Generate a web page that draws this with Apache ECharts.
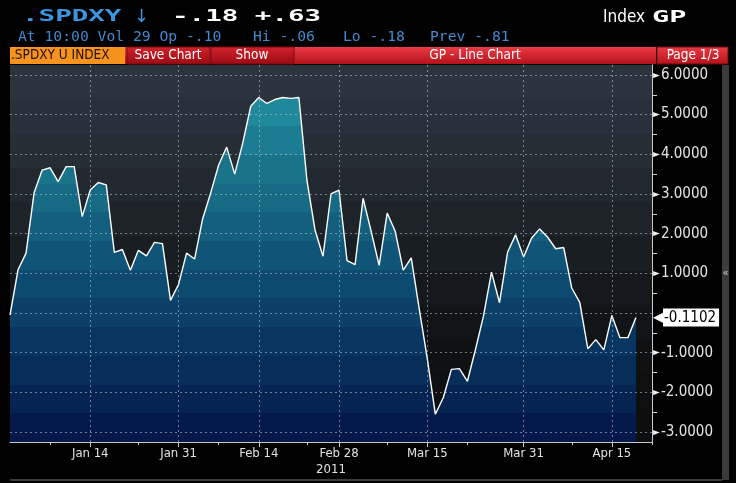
<!DOCTYPE html>
<html>
<head>
<meta charset="utf-8">
<script src="https://cdn.jsdelivr.net/npm/echarts@6/dist/echarts.min.js"></script>
<style>
html,body{margin:0;padding:0;background:#000;}
#chart{width:736px;height:483px;}
</style>
</head>
<body>
<div id="chart"></div>
<script>
// ---- data ----
const categories = [
  'Dec 31',
  'Jan 3','Jan 4','Jan 5','Jan 6','Jan 7','Jan 10','Jan 11','Jan 12','Jan 13','Jan 14',
  'Jan 17','Jan 18','Jan 19','Jan 20','Jan 21','Jan 24','Jan 25','Jan 26','Jan 27','Jan 28','Jan 31',
  'Feb 1','Feb 2','Feb 3','Feb 4','Feb 7','Feb 8','Feb 9','Feb 10','Feb 11','Feb 14',
  'Feb 15','Feb 16','Feb 17','Feb 18','Feb 21','Feb 22','Feb 23','Feb 24','Feb 25','Feb 28',
  'Mar 1','Mar 2','Mar 3','Mar 4','Mar 7','Mar 8','Mar 9','Mar 10','Mar 11','Mar 14','Mar 15',
  'Mar 16','Mar 17','Mar 18','Mar 21','Mar 22','Mar 23','Mar 24','Mar 25','Mar 28','Mar 29','Mar 30','Mar 31',
  'Apr 1','Apr 4','Apr 5','Apr 6','Apr 7','Apr 8','Apr 11','Apr 12','Apr 13','Apr 14','Apr 15',
  'Apr 18','Apr 19','Apr 20','Apr 21','Apr 22'
];
const values = [
  -0.05, 1.09, 1.51, 3.03, 3.60, 3.66, 3.31, 3.69, 3.69, 2.43,
   3.10, 3.29, 3.23, 1.53, 1.60, 1.08, 1.58, 1.44, 1.78, 1.75,
   0.32, 0.72, 1.51, 1.36, 2.37, 3.02, 3.73, 4.18, 3.50, 4.28,
   5.21, 5.43, 5.28, 5.38, 5.43, 5.41, 5.43, 3.35, 2.10, 1.43,
   3.00, 3.10, 1.32, 1.22, 2.89, 2.06, 1.20, 2.52, 2.06, 1.08,
   1.39, 0.10, -1.15, -2.55, -2.13, -1.42, -1.40, -1.72, -0.92, -0.08,
   1.03, 0.26, 1.53, 1.97, 1.41, 1.89, 2.12, 1.91, 1.62, 1.65,
   0.63, 0.27, -0.90, -0.67, -0.93, -0.06, -0.62, -0.62, -0.1102
];
const lastValue = -0.1102;
const tickLabels = ['Jan 14','Jan 31','Feb 14','Feb 28','Mar 15','Mar 31','Apr 15'];
const minorTickDates = ['Jan 7','Jan 24','Feb 7','Feb 22','Mar 8','Mar 22','Apr 8','Apr 22'];
const yearLabel = '2011';
const yearLabelAt = 'Feb 25';
const yLabelValues = [-3, -2, -1, 1, 2, 3, 4, 5, 6];
const yGridValues = [-3, -2, -1, 0, 1, 2, 3, 4, 5, 6];
const yMinorTicks = [-2.5, -1.5, -0.5, 0.5, 1.5, 2.5, 3.5, 4.5, 5.5];
const yMin = -3.25, yMax = 6.25;

const headTicker = '.SPDXY';
const headArrow = '↓';
const headQuote = '-.18 +.63';
const infoParts = ['At 10:00 Vol 29 Op -.10', 'Hi -.06', 'Lo -.18', 'Prev -.81'];
const headRight1 = 'Index';
const headRight2 = 'GP';
const toolbarTexts = ['.SPDXY U INDEX', 'Save Chart', 'Show', 'GP - Line Chart', 'Page 1/3'];

// ---- styles ----
const COND = "'DejaVu Sans Condensed','Liberation Sans Narrow','DejaVu Sans',sans-serif";
function bands(list) {
  const stops = [];
  const n = list.length;
  list.forEach((c, i) => {
    stops.push({offset: i / n, color: c});
    stops.push({offset: (i + 1) / n, color: c});
  });
  return {type: 'linear', x: 0, y: 0, x2: 0, y2: 1, colorStops: stops};
}
const bgGrad = bands(['#2b343d','#28313a','#252d35','#212830','#1d2329','#191e23','#15191d','#121518','#0f1113','#0d0f10','#0c0e0f']);
const areaGrad = bands(['#1f889b','#1c7d92','#197389','#166a84','#135f7d','#105577','#0d4a6f','#0b4068','#093661','#072d59','#062451','#051a4a']);
const gridLine = {color: 'rgba(195,205,215,0.55)', type: [2, 3], width: 1};
const redGrad = {type:'linear',x:0,y:0,x2:0,y2:1,colorStops:[{offset:0,color:'#ec3b45'},{offset:1,color:'#b3121b'}]};
const btnGrad = {type:'linear',x:0,y:0,x2:0,y2:1,colorStops:[{offset:0,color:'#d4222c'},{offset:1,color:'#980b13'}]};

const chart = echarts.init(document.getElementById('chart'), null, {renderer: 'canvas'});

const markData = []
  .concat(yGridValues.map(v => ({yAxis: v, lineStyle: gridLine, label: {show: false}})))
  .concat(tickLabels.map(d => ({xAxis: categories.indexOf(d), lineStyle: gridLine, label: {show: false}})))
  .concat([{
    yAxis: lastValue,
    lineStyle: {color: 'rgba(0,0,0,0)', width: 0, opacity: 1},
    label: {
      show: true, position: 'end', distance: 1, opacity: 1,
      formatter: () => '{a|◀}{b|' + lastValue.toFixed(4) + '}',
      rich: {
        a: {color: '#ffffff', fontSize: 16, padding: [0, -2, 0, 0], opacity: 1},
        b: {backgroundColor: '#ffffff', color: '#000000', fontSize: 15, fontFamily: COND, padding: [2, 3, 1, 1], opacity: 1}
      }
    }
  }]);

const text = (x, y, str, fill, font, extra) => Object.assign({
  type: 'text', x: x, y: y, silent: true,
  style: {text: str, fill: fill, font: font, verticalAlign: 'middle'}
}, extra || {});
const ctext = (x, y, str, fill, font) => ({
  type: 'text', x: x, y: y, silent: true,
  style: {text: str, fill: fill, font: font, verticalAlign: 'middle', align: 'center'}
});

const option = {
  backgroundColor: '#000000',
  animation: false,
  grid: {left: 10, right: 84, top: 65, bottom: 41, show: true, backgroundColor: bgGrad, borderWidth: 0},
  xAxis: [{
    type: 'category', data: categories, boundaryGap: false, position: 'bottom',
    axisLine: {onZero: false, lineStyle: {color: '#c8c8c8', width: 1}},
    axisTick: {interval: (i, v) => tickLabels.indexOf(v) >= 0, length: 5, lineStyle: {color: '#d0d0d0'}},
    axisLabel: {interval: (i, v) => tickLabels.indexOf(v) >= 0, color: '#e2e2e2', fontSize: 13, fontFamily: COND, margin: 5},
    splitLine: {show: false}
  }, {
    type: 'category', data: categories, boundaryGap: false, position: 'bottom',
    axisLine: {show: false, onZero: false},
    axisTick: {interval: (i, v) => minorTickDates.indexOf(v) >= 0, length: 3, lineStyle: {color: '#d0d0d0'}},
    axisLabel: {interval: (i, v) => v === yearLabelAt, formatter: () => yearLabel, color: '#e2e2e2', fontSize: 13, fontFamily: COND, margin: 21},
    splitLine: {show: false}
  }],
  yAxis: {
    type: 'value', position: 'right', min: yMin, max: yMax, scale: false,
    axisLine: {show: true, onZero: false, lineStyle: {color: '#c8c8c8', width: 1}},
    axisTick: {show: true, customValues: yMinorTicks, length: 5, lineStyle: {color: '#d0d0d0'}},
    axisLabel: {
      customValues: yLabelValues, margin: 1, color: '#e4e4e4', fontSize: 15, fontFamily: COND,
      formatter: v => '{t|►}' + v.toFixed(4),
      rich: {t: {fontSize: 10, color: '#f0f0f0', padding: [0, 1, 0, 0]}}
    },
    splitLine: {show: false}
  },
  series: [{
    type: 'line', data: values, xAxisIndex: 0, symbol: 'none', smooth: false,
    lineStyle: {color: '#ffffff', width: 1.4},
    areaStyle: {origin: 'start', color: areaGrad, opacity: 1},
    markLine: {silent: true, symbol: ['none', 'none'], animation: false, data: markData}
  }],
  graphic: [
    text(22, 17, headTicker, '#3a96e0', 'bold 16px "DejaVu Sans Mono"', {scaleX: 1.72}),
    text(134, 17, headArrow, '#3a96e0', '18px "DejaVu Sans"'),
    text(172, 17, headQuote, '#ffffff', 'bold 16px "DejaVu Sans Mono"', {scaleX: 1.72}),
    text(18, 37, infoParts[0], '#4189d0', '14.7px "DejaVu Sans Mono"'),
    text(253, 37, infoParts[1], '#4189d0', '14.7px "DejaVu Sans Mono"'),
    text(343, 37, infoParts[2], '#4189d0', '14.7px "DejaVu Sans Mono"'),
    text(430, 37, infoParts[3], '#4189d0', '14.7px "DejaVu Sans Mono"'),
    text(603, 18, headRight1, '#ffffff', '17px ' + COND),
    text(652, 18, headRight2, '#ffffff', 'bold 15px "DejaVu Sans Mono"', {scaleX: 1.9}),
    // toolbar
    {type: 'rect', shape: {x: 10, y: 47, width: 115, height: 17}, style: {fill: '#f6921e'}, silent: true},
    {type: 'rect', shape: {x: 125, y: 47, width: 531, height: 17}, style: {fill: redGrad}, silent: true},
    {type: 'rect', shape: {x: 127, y: 47, width: 83, height: 17}, style: {fill: btnGrad, stroke: '#7a0a10', lineWidth: 1}, silent: true},
    {type: 'rect', shape: {x: 211, y: 47, width: 83, height: 17}, style: {fill: btnGrad, stroke: '#7a0a10', lineWidth: 1}, silent: true},
    {type: 'rect', shape: {x: 657, y: 47, width: 71, height: 17}, style: {fill: redGrad, stroke: '#6a0a10', lineWidth: 1}, silent: true},
    text(11, 55.5, toolbarTexts[0], '#201000', '13.5px ' + COND),
    ctext(168, 55.5, toolbarTexts[1], '#ffffff', '13.5px ' + COND),
    ctext(252, 55.5, toolbarTexts[2], '#ffffff', '13.5px ' + COND),
    ctext(475, 55.5, toolbarTexts[3], '#ffffff', '13.5px ' + COND),
    ctext(693, 55.5, toolbarTexts[4], '#ffffff', '13.5px ' + COND),
    // right scrollbar & bottom frame
    {type: 'rect', shape: {x: 722, y: 65, width: 7, height: 415}, style: {fill: '#3b3b3b'}, silent: true},
    ctext(725.5, 273, '«', '#d0d0d0', '10px "DejaVu Sans"'),
    {type: 'rect', shape: {x: 10, y: 479, width: 712, height: 2}, style: {fill: '#3b3b3b'}, silent: true}
  ]
};
chart.setOption(option);
</script>
</body>
</html>
